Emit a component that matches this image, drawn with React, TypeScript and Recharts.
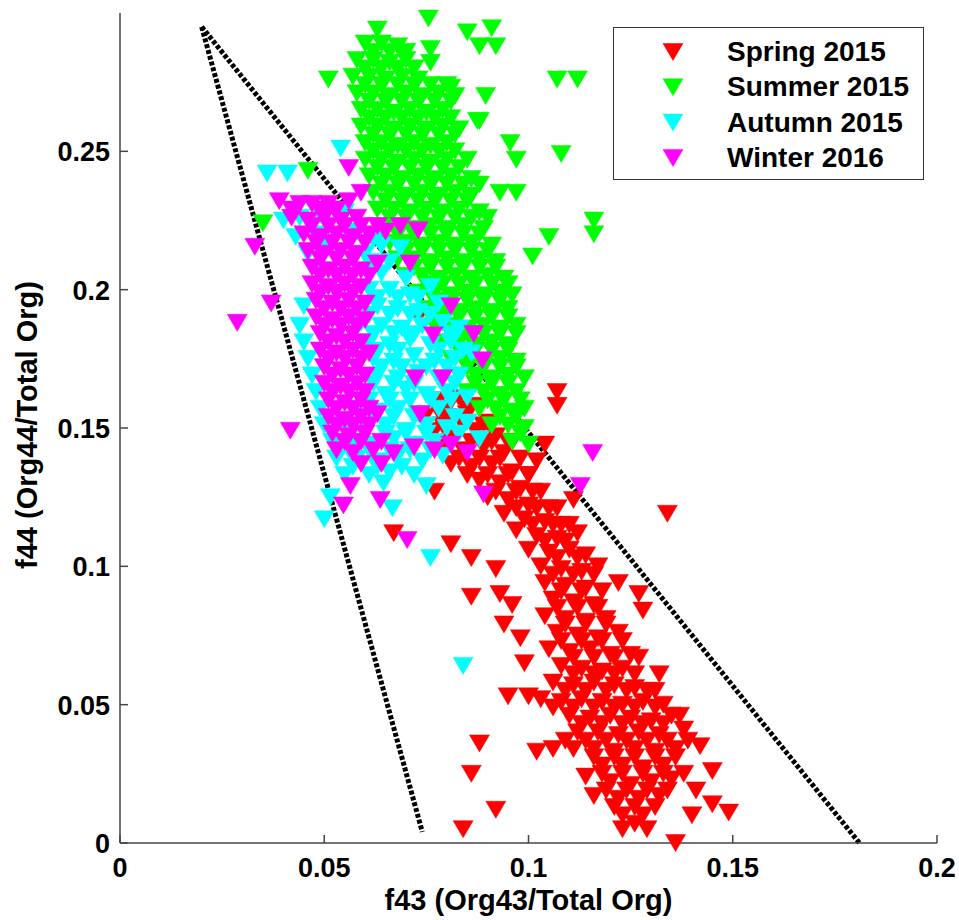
import React from "react";
import {
  ScatterChart,
  Scatter,
  XAxis,
  YAxis,
  ReferenceLine,
  Legend,
  Label,
} from "recharts";

type Pt = [number, number];

// f43, f44 pairs
const spring2015: Pt[] = [
  [0.078, 0.160], [0.083, 0.161], [0.088, 0.158], [0.075, 0.155], [0.080, 0.154], [0.085, 0.155], [0.090, 0.152],
  [0.077, 0.149], [0.082, 0.148], [0.087, 0.149], [0.092, 0.147], [0.096, 0.145],
  [0.079, 0.143], [0.084, 0.142], [0.089, 0.143], [0.094, 0.141], [0.098, 0.139], [0.104, 0.144],
  [0.081, 0.137], [0.086, 0.136], [0.091, 0.137], [0.096, 0.134], [0.100, 0.133], [0.102, 0.138],
  [0.107, 0.163], [0.107, 0.158], [0.073, 0.190], [0.077, 0.127], [0.067, 0.112], [0.078, 0.156],
  [0.088, 0.131], [0.093, 0.130], [0.098, 0.128], [0.103, 0.127],
  [0.090, 0.125], [0.095, 0.124], [0.100, 0.122], [0.105, 0.121], [0.111, 0.124],
  [0.094, 0.119], [0.099, 0.117], [0.104, 0.116], [0.108, 0.115],
  [0.097, 0.113], [0.102, 0.111], [0.107, 0.110], [0.112, 0.112],
  [0.100, 0.106], [0.105, 0.105], [0.110, 0.106], [0.114, 0.104],
  [0.081, 0.108], [0.086, 0.103], [0.092, 0.099], [0.103, 0.100], [0.108, 0.099], [0.113, 0.098], [0.117, 0.100],
  [0.134, 0.119],
  [0.086, 0.089], [0.093, 0.090], [0.096, 0.086], [0.094, 0.079], [0.098, 0.074], [0.099, 0.065],
  [0.104, 0.094], [0.109, 0.093], [0.114, 0.092], [0.122, 0.094],
  [0.106, 0.088], [0.111, 0.087], [0.116, 0.086], [0.127, 0.090], [0.128, 0.084],
  [0.104, 0.082], [0.109, 0.081], [0.114, 0.080], [0.119, 0.081],
  [0.107, 0.076], [0.112, 0.075], [0.117, 0.074], [0.122, 0.076],
  [0.105, 0.070], [0.110, 0.069], [0.115, 0.070], [0.120, 0.068], [0.125, 0.068], [0.127, 0.067],
  [0.108, 0.064], [0.113, 0.063], [0.118, 0.062], [0.123, 0.063], [0.132, 0.061],
  [0.106, 0.058], [0.111, 0.057], [0.116, 0.058], [0.121, 0.057], [0.126, 0.056], [0.131, 0.055],
  [0.103, 0.052], [0.108, 0.051], [0.113, 0.052], [0.118, 0.051], [0.123, 0.050], [0.128, 0.051], [0.133, 0.050],
  [0.095, 0.053], [0.100, 0.053],
  [0.110, 0.046], [0.115, 0.045], [0.120, 0.046], [0.125, 0.045], [0.130, 0.044], [0.135, 0.046], [0.137, 0.046],
  [0.112, 0.040], [0.117, 0.040], [0.122, 0.039], [0.127, 0.040], [0.132, 0.039], [0.138, 0.041], [0.142, 0.035],
  [0.102, 0.033], [0.106, 0.034], [0.111, 0.034], [0.116, 0.034], [0.121, 0.033], [0.126, 0.034], [0.131, 0.033], [0.136, 0.034],
  [0.118, 0.028], [0.123, 0.028], [0.128, 0.027], [0.133, 0.028], [0.114, 0.024], [0.145, 0.026],
  [0.120, 0.022], [0.125, 0.021], [0.130, 0.022], [0.135, 0.023],
  [0.116, 0.017], [0.122, 0.016], [0.127, 0.016], [0.132, 0.017], [0.141, 0.019], [0.145, 0.014],
  [0.123, 0.010], [0.128, 0.010], [0.140, 0.010], [0.149, 0.011],
  [0.123, 0.005], [0.129, 0.005], [0.136, 0.000],
  [0.084, 0.005], [0.086, 0.025], [0.088, 0.036], [0.092, 0.012],
  // in-between rows of the dense band
  [0.080, 0.157], [0.085, 0.157],
  [0.079, 0.151], [0.084, 0.151], [0.089, 0.151],
  [0.081, 0.145], [0.086, 0.145], [0.091, 0.145], [0.095, 0.145],
  [0.083, 0.139], [0.088, 0.139], [0.093, 0.139],
  [0.085, 0.133], [0.090, 0.133], [0.095, 0.133], [0.100, 0.133],
  [0.092, 0.127], [0.097, 0.127], [0.101, 0.127],
  [0.097, 0.121], [0.102, 0.121], [0.107, 0.121],
  [0.101, 0.115], [0.106, 0.115], [0.110, 0.115],
  [0.104, 0.109], [0.109, 0.109],
  [0.107, 0.103], [0.112, 0.103],
  [0.106, 0.097], [0.111, 0.097], [0.116, 0.097],
  [0.108, 0.091], [0.113, 0.091], [0.118, 0.091],
  [0.107, 0.085], [0.112, 0.085], [0.117, 0.085],
  [0.109, 0.079], [0.114, 0.079], [0.119, 0.079],
  [0.108, 0.073], [0.113, 0.073], [0.118, 0.073], [0.123, 0.073],
  [0.111, 0.067], [0.116, 0.067], [0.121, 0.067],
  [0.111, 0.061], [0.116, 0.061], [0.121, 0.061], [0.126, 0.061],
  [0.109, 0.055], [0.114, 0.055], [0.119, 0.055], [0.124, 0.055], [0.129, 0.055],
  [0.106, 0.049], [0.111, 0.049], [0.116, 0.049], [0.121, 0.049], [0.126, 0.049], [0.131, 0.049],
  [0.113, 0.043], [0.118, 0.043], [0.123, 0.043], [0.128, 0.043], [0.133, 0.043],
  [0.109, 0.037], [0.114, 0.037], [0.119, 0.037], [0.124, 0.037], [0.129, 0.037], [0.134, 0.037], [0.139, 0.037],
  [0.116, 0.031], [0.121, 0.031], [0.126, 0.031], [0.131, 0.031], [0.136, 0.031],
  [0.118, 0.025], [0.123, 0.025], [0.128, 0.025], [0.133, 0.025], [0.138, 0.025],
  [0.119, 0.019], [0.124, 0.019], [0.129, 0.019], [0.134, 0.019],
  [0.121, 0.013], [0.126, 0.013], [0.131, 0.013],
  [0.126, 0.007],
];

const summer2015: Pt[] = [
  [0.063, 0.294], [0.0755, 0.298], [0.085, 0.293], [0.091, 0.2945],
  [0.060, 0.289], [0.064, 0.289], [0.068, 0.288], [0.076, 0.287], [0.088, 0.288], [0.092, 0.288],
  [0.058, 0.283], [0.062, 0.283], [0.066, 0.282], [0.070, 0.283], [0.076, 0.282],
  [0.051, 0.276], [0.057, 0.277], [0.061, 0.277], [0.065, 0.276], [0.069, 0.277], [0.073, 0.276], [0.081, 0.273], [0.107, 0.276], [0.112, 0.276],
  [0.058, 0.271], [0.062, 0.271], [0.066, 0.270], [0.070, 0.271], [0.074, 0.270], [0.078, 0.271], [0.082, 0.270], [0.0895, 0.270],
  [0.059, 0.265], [0.063, 0.265], [0.067, 0.264], [0.071, 0.265], [0.075, 0.264], [0.079, 0.265], [0.0875, 0.261],
  [0.059, 0.259], [0.063, 0.259], [0.067, 0.258], [0.071, 0.259], [0.075, 0.258], [0.079, 0.259], [0.083, 0.258], [0.088, 0.261],
  [0.060, 0.253], [0.064, 0.253], [0.068, 0.252], [0.072, 0.253], [0.076, 0.252], [0.080, 0.253], [0.0955, 0.253],
  [0.046, 0.243], [0.060, 0.247], [0.064, 0.247], [0.068, 0.246], [0.072, 0.247], [0.076, 0.246], [0.080, 0.247], [0.085, 0.247], [0.097, 0.247], [0.108, 0.249],
  [0.061, 0.241], [0.065, 0.241], [0.069, 0.240], [0.073, 0.241], [0.077, 0.240], [0.081, 0.241], [0.086, 0.240],
  [0.062, 0.235], [0.066, 0.235], [0.070, 0.234], [0.074, 0.235], [0.078, 0.234], [0.082, 0.235], [0.086, 0.234], [0.093, 0.235], [0.097, 0.235],
  [0.063, 0.229], [0.067, 0.229], [0.071, 0.228], [0.075, 0.229], [0.079, 0.228], [0.083, 0.229], [0.088, 0.228],
  [0.035, 0.224], [0.064, 0.223], [0.068, 0.223], [0.072, 0.222], [0.076, 0.223], [0.080, 0.222], [0.084, 0.223], [0.089, 0.222], [0.105, 0.219], [0.116, 0.225],
  [0.066, 0.217], [0.070, 0.217], [0.074, 0.216], [0.078, 0.217], [0.082, 0.216], [0.086, 0.217], [0.091, 0.216], [0.101, 0.212], [0.116, 0.220],
  [0.068, 0.211], [0.072, 0.211], [0.076, 0.210], [0.080, 0.211], [0.084, 0.210], [0.088, 0.211], [0.092, 0.210],
  [0.070, 0.205], [0.074, 0.205], [0.078, 0.204], [0.082, 0.205], [0.086, 0.204], [0.090, 0.205], [0.094, 0.204],
  [0.073, 0.199], [0.077, 0.199], [0.081, 0.198], [0.085, 0.199], [0.089, 0.198], [0.093, 0.199], [0.096, 0.198],
  [0.075, 0.193], [0.079, 0.193], [0.083, 0.192], [0.087, 0.193], [0.091, 0.192], [0.095, 0.193],
  [0.077, 0.187], [0.081, 0.187], [0.085, 0.186], [0.089, 0.187], [0.093, 0.186], [0.097, 0.187],
  [0.079, 0.181], [0.083, 0.181], [0.087, 0.180], [0.091, 0.181], [0.095, 0.180],
  [0.081, 0.175], [0.085, 0.175], [0.089, 0.174], [0.093, 0.175], [0.097, 0.174],
  [0.083, 0.169], [0.087, 0.169], [0.091, 0.168], [0.095, 0.169], [0.099, 0.168],
  [0.085, 0.163], [0.089, 0.163], [0.093, 0.162], [0.097, 0.163],
  [0.088, 0.157], [0.092, 0.157], [0.096, 0.156], [0.099, 0.157],
  [0.091, 0.151], [0.095, 0.151], [0.099, 0.150],
  [0.096, 0.145], [0.100, 0.144],
  // in-between rows of the dense cloud
  [0.062, 0.286], [0.066, 0.286], [0.070, 0.286],
  [0.060, 0.280], [0.064, 0.280], [0.068, 0.280], [0.072, 0.280],
  [0.060, 0.274], [0.064, 0.274], [0.068, 0.274], [0.072, 0.274], [0.076, 0.274], [0.080, 0.274],
  [0.061, 0.268], [0.065, 0.268], [0.069, 0.268], [0.073, 0.268], [0.077, 0.268], [0.081, 0.268],
  [0.061, 0.262], [0.065, 0.262], [0.069, 0.262], [0.073, 0.262], [0.077, 0.262], [0.081, 0.262],
  [0.062, 0.256], [0.066, 0.256], [0.070, 0.256], [0.074, 0.256], [0.078, 0.256], [0.082, 0.256],
  [0.062, 0.250], [0.066, 0.250], [0.070, 0.250], [0.074, 0.250], [0.078, 0.250], [0.082, 0.250],
  [0.063, 0.244], [0.067, 0.244], [0.071, 0.244], [0.075, 0.244], [0.079, 0.244], [0.083, 0.244],
  [0.064, 0.238], [0.068, 0.238], [0.072, 0.238], [0.076, 0.238], [0.080, 0.238], [0.084, 0.238], [0.088, 0.238],
  [0.065, 0.232], [0.069, 0.232], [0.073, 0.232], [0.077, 0.232], [0.081, 0.232], [0.085, 0.232],
  [0.066, 0.226], [0.070, 0.226], [0.074, 0.226], [0.078, 0.226], [0.082, 0.226], [0.086, 0.226], [0.090, 0.226],
  [0.068, 0.220], [0.072, 0.220], [0.076, 0.220], [0.080, 0.220], [0.084, 0.220], [0.088, 0.220],
  [0.070, 0.214], [0.074, 0.214], [0.078, 0.214], [0.082, 0.214], [0.086, 0.214], [0.090, 0.214],
  [0.072, 0.208], [0.076, 0.208], [0.080, 0.208], [0.084, 0.208], [0.088, 0.208], [0.092, 0.208],
  [0.075, 0.202], [0.079, 0.202], [0.083, 0.202], [0.087, 0.202], [0.091, 0.202], [0.095, 0.202],
  [0.077, 0.196], [0.081, 0.196], [0.085, 0.196], [0.089, 0.196], [0.093, 0.196],
  [0.079, 0.190], [0.083, 0.190], [0.087, 0.190], [0.091, 0.190], [0.095, 0.190],
  [0.081, 0.184], [0.085, 0.184], [0.089, 0.184], [0.093, 0.184], [0.097, 0.184],
  [0.083, 0.178], [0.087, 0.178], [0.091, 0.178], [0.095, 0.178],
  [0.085, 0.172], [0.089, 0.172], [0.093, 0.172], [0.097, 0.172],
  [0.087, 0.166], [0.091, 0.166], [0.095, 0.166],
  [0.090, 0.160], [0.094, 0.160], [0.098, 0.160],
  [0.093, 0.154], [0.097, 0.154],
  [0.098, 0.148],
];

const autumn2015: Pt[] = [
  [0.054, 0.251], [0.036, 0.242], [0.041, 0.242],
  [0.040, 0.225], [0.044, 0.226], [0.049, 0.227], [0.055, 0.228],
  [0.043, 0.219], [0.048, 0.220], [0.058, 0.221], [0.062, 0.218],
  [0.046, 0.213], [0.060, 0.213], [0.0686, 0.215],
  [0.049, 0.207], [0.059, 0.207], [0.064, 0.206], [0.070, 0.204],
  [0.061, 0.200], [0.066, 0.200], [0.071, 0.198], [0.076, 0.201],
  [0.045, 0.194], [0.063, 0.194], [0.068, 0.193], [0.073, 0.192], [0.078, 0.195],
  [0.044, 0.187], [0.059, 0.188], [0.064, 0.187], [0.069, 0.186], [0.074, 0.187], [0.079, 0.188], [0.083, 0.186],
  [0.045, 0.181], [0.061, 0.181], [0.066, 0.180], [0.071, 0.182], [0.076, 0.180], [0.081, 0.181],
  [0.046, 0.175], [0.062, 0.175], [0.067, 0.174], [0.072, 0.176], [0.077, 0.174], [0.082, 0.175], [0.086, 0.177],
  [0.047, 0.169], [0.063, 0.169], [0.068, 0.168], [0.073, 0.170], [0.078, 0.168], [0.083, 0.169],
  [0.048, 0.163], [0.060, 0.163], [0.065, 0.162], [0.070, 0.164], [0.075, 0.162], [0.080, 0.163], [0.085, 0.161],
  [0.049, 0.157], [0.058, 0.157], [0.063, 0.156], [0.068, 0.157], [0.073, 0.155], [0.078, 0.157],
  [0.050, 0.151], [0.055, 0.151], [0.060, 0.150], [0.065, 0.151], [0.070, 0.149], [0.075, 0.151], [0.080, 0.150], [0.085, 0.152],
  [0.052, 0.145], [0.057, 0.145], [0.062, 0.144], [0.067, 0.146], [0.072, 0.144], [0.077, 0.145], [0.088, 0.146],
  [0.053, 0.139], [0.058, 0.139], [0.063, 0.138], [0.068, 0.140], [0.074, 0.138], [0.079, 0.140],
  [0.055, 0.133], [0.061, 0.133], [0.066, 0.134], [0.072, 0.133],
  [0.0645, 0.130], [0.075, 0.129], [0.0515, 0.125], [0.0667, 0.121], [0.050, 0.117], [0.076, 0.103], [0.084, 0.064],
  // in-between rows
  [0.050, 0.216], [0.064, 0.216], [0.061, 0.210], [0.066, 0.210],
  [0.063, 0.197], [0.068, 0.197], [0.073, 0.197],
  [0.061, 0.191], [0.066, 0.191], [0.071, 0.191], [0.076, 0.191],
  [0.062, 0.184], [0.067, 0.184], [0.072, 0.184], [0.081, 0.184],
  [0.063, 0.178], [0.068, 0.178], [0.078, 0.178], [0.084, 0.178],
  [0.064, 0.172], [0.069, 0.172], [0.075, 0.172], [0.080, 0.172],
  [0.062, 0.166], [0.067, 0.166], [0.072, 0.166], [0.082, 0.166],
  [0.061, 0.160], [0.066, 0.160], [0.071, 0.160], [0.076, 0.160], [0.081, 0.160],
  [0.062, 0.154], [0.067, 0.154], [0.072, 0.154], [0.082, 0.154],
  [0.060, 0.148], [0.065, 0.148], [0.070, 0.148], [0.075, 0.148], [0.083, 0.148],
  [0.056, 0.142], [0.061, 0.142], [0.066, 0.142], [0.071, 0.142], [0.076, 0.142],
  [0.057, 0.136], [0.063, 0.136], [0.069, 0.136],
];

const winter2016: Pt[] = [
  [0.039, 0.232], [0.044, 0.231], [0.047, 0.231], [0.051, 0.231], [0.056, 0.232],
  [0.056, 0.244], [0.059, 0.235],
  [0.042, 0.226], [0.046, 0.225], [0.050, 0.226], [0.054, 0.225], [0.058, 0.226],
  [0.045, 0.220], [0.049, 0.219], [0.053, 0.220], [0.057, 0.219], [0.061, 0.220], [0.065, 0.221],
  [0.0686, 0.223], [0.073, 0.2215], [0.033, 0.2155],
  [0.046, 0.214], [0.050, 0.213], [0.054, 0.214], [0.058, 0.213],
  [0.047, 0.208], [0.051, 0.207], [0.055, 0.208], [0.059, 0.207], [0.063, 0.2095], [0.071, 0.2095],
  [0.047, 0.202], [0.051, 0.201], [0.055, 0.202], [0.059, 0.201],
  [0.037, 0.195], [0.048, 0.196], [0.052, 0.195], [0.056, 0.196], [0.060, 0.195],
  [0.0287, 0.188],
  [0.048, 0.190], [0.052, 0.189], [0.056, 0.190], [0.060, 0.189],
  [0.049, 0.184], [0.053, 0.183], [0.057, 0.184],
  [0.049, 0.178], [0.053, 0.177], [0.057, 0.178], [0.061, 0.177],
  [0.050, 0.172], [0.054, 0.171], [0.058, 0.172],
  [0.050, 0.166], [0.054, 0.165], [0.058, 0.166],
  [0.051, 0.160], [0.055, 0.159], [0.059, 0.160],
  [0.051, 0.154], [0.055, 0.153], [0.059, 0.154], [0.063, 0.155],
  [0.052, 0.148], [0.056, 0.147], [0.060, 0.148],
  [0.0417, 0.149],
  [0.053, 0.142], [0.057, 0.141], [0.062, 0.142], [0.067, 0.141], [0.072, 0.143], [0.077, 0.142], [0.081, 0.144], [0.085, 0.141],
  [0.059, 0.137], [0.064, 0.137],
  [0.0564, 0.129], [0.0547, 0.122], [0.0637, 0.124], [0.0703, 0.1095], [0.089, 0.126], [0.1157, 0.141], [0.1127, 0.129],
  [0.081, 0.194], [0.0866, 0.184], [0.0887, 0.1745], [0.0767, 0.1835], [0.0723, 0.168], [0.079, 0.168], [0.0735, 0.155],
  // in-between rows of the core
  [0.042, 0.229], [0.049, 0.229], [0.053, 0.229],
  [0.047, 0.223], [0.051, 0.223], [0.055, 0.223], [0.059, 0.223], [0.063, 0.223],
  [0.048, 0.217], [0.052, 0.217], [0.056, 0.217], [0.060, 0.217],
  [0.049, 0.211], [0.053, 0.211], [0.057, 0.211],
  [0.049, 0.205], [0.053, 0.205], [0.057, 0.205], [0.061, 0.205],
  [0.049, 0.199], [0.053, 0.199], [0.057, 0.199],
  [0.050, 0.193], [0.054, 0.193], [0.058, 0.193],
  [0.050, 0.187], [0.054, 0.187], [0.058, 0.187],
  [0.051, 0.181], [0.055, 0.181], [0.059, 0.181],
  [0.051, 0.175], [0.055, 0.175], [0.059, 0.175],
  [0.052, 0.169], [0.056, 0.169], [0.060, 0.169],
  [0.052, 0.163], [0.056, 0.163], [0.060, 0.163],
  [0.053, 0.157], [0.057, 0.157], [0.061, 0.157],
  [0.053, 0.151], [0.057, 0.151], [0.061, 0.151],
  [0.055, 0.145], [0.059, 0.145], [0.064, 0.145],
];

const xTicks = [0, 0.05, 0.1, 0.15, 0.2];
const yTicks = [0, 0.05, 0.1, 0.15, 0.2, 0.25];

// the two dotted boundary lines
const leftBoundary = [
  { x: 0.02, y: 0.295 },
  { x: 0.074, y: 0.004 },
];
const rightBoundary = [
  { x: 0.02, y: 0.295 },
  { x: 0.181, y: 0.0 },
];

const series = [
  { name: "Spring 2015", color: "#ff0000", points: spring2015 },
  { name: "Summer 2015", color: "#00ff00", points: summer2015 },
  { name: "Autumn 2015", color: "#00ffff", points: autumn2015 },
  { name: "Winter 2016", color: "#ff00ff", points: winter2016 },
];

const FONT = "'Liberation Sans', Arial, Helvetica, sans-serif";
const AXIS = "#444";

const Triangle = (props: any) => {
  const { cx, cy, fill } = props;
  if (cx == null || cy == null) return null;
  const w = 10;
  const h = 8.5;
  return (
    <polygon
      points={`${cx - w},${cy - h} ${cx + w},${cy - h} ${cx},${cy + h}`}
      fill={fill}
      stroke={fill}
      strokeWidth={0.5}
    />
  );
};

const BottomTick = ({ x, y, payload }: any) => (
  <g>
    <line x1={x} x2={x} y1={y} y2={y - 8} stroke={AXIS} strokeWidth={1.5} />
    <text x={x} y={y + 34} textAnchor="middle" fontSize={27} fontWeight="bold" fontFamily={FONT} fill="#000">
      {String(payload.value)}
    </text>
  </g>
);

const LeftTick = ({ x, y, payload }: any) => (
  <g>
    <line x1={x} x2={x + 8} y1={y} y2={y} stroke={AXIS} strokeWidth={1.5} />
    <text x={x - 10} y={y + 10} textAnchor="end" fontSize={27} fontWeight="bold" fontFamily={FONT} fill="#000">
      {String(payload.value)}
    </text>
  </g>
);

const TopTick = ({ x, y }: any) => (
  <line x1={x} x2={x} y1={y} y2={y + 8} stroke={AXIS} strokeWidth={1.5} />
);

const RightTick = ({ x, y }: any) => (
  <line x1={x} x2={x - 8} y1={y} y2={y} stroke={AXIS} strokeWidth={1.5} />
);

const LegendBox = () => (
  <svg width={311} height={153} style={{ display: "block" }}>
    <rect x={0.5} y={0.5} width={310} height={152} fill="#fff" stroke="#333" strokeWidth={1} />
    {series.map((s, i) => {
      const cy = 25 + i * 35.3;
      return (
        <g key={s.name}>
          <Triangle cx={60} cy={cy} fill={s.color} />
          <text x={114} y={cy + 9} fontSize={28} fontWeight="bold" fontFamily={FONT} fill="#000">
            {s.name}
          </text>
        </g>
      );
    })}
  </svg>
);

export default function App() {
  return (
    <div style={{ position: "absolute", left: 0, top: 0, background: "#fff" }}>
      <ScatterChart width={959} height={920} margin={{ top: 13, right: 22, bottom: 0, left: 0 }}>
        <XAxis
          dataKey="x"
          type="number"
          domain={[0, 0.2]}
          ticks={xTicks}
          interval={0}
          height={77}
          tickSize={0}
          tickMargin={0}
          tickLine={false}
          axisLine={{ stroke: AXIS, strokeWidth: 1.5 }}
          tick={<BottomTick />}
        >
          <Label
            content={({ viewBox }: any) => (
              <text
                x={viewBox.x + viewBox.width / 2}
                y={910}
                textAnchor="middle"
                fontSize={29}
                fontWeight="bold"
                fontFamily={FONT}
                fill="#000"
              >
                f43 (Org43/Total Org)
              </text>
            )}
          />
        </XAxis>
        <YAxis
          dataKey="y"
          type="number"
          domain={[0, 0.3]}
          ticks={yTicks}
          interval={0}
          width={120}
          tickSize={0}
          tickMargin={0}
          tickLine={false}
          axisLine={{ stroke: AXIS, strokeWidth: 1.5 }}
          tick={<LeftTick />}
        >
          <Label
            content={({ viewBox }: any) => {
              const cy = viewBox.y + viewBox.height / 2 - 3;
              return (
                <text
                  transform={`translate(37, ${cy}) rotate(-90)`}
                  textAnchor="middle"
                  fontSize={29}
                  fontWeight="bold"
                  fontFamily={FONT}
                  fill="#000"
                >
                  f44 (Org44/Total Org)
                </text>
              );
            }}
          />
        </YAxis>
        <XAxis
          xAxisId="top"
          orientation="top"
          type="number"
          domain={[0, 0.2]}
          ticks={xTicks}
          interval={0}
          height={0}
          tickSize={0}
          tickMargin={0}
          tickLine={false}
          axisLine={{ stroke: AXIS, strokeWidth: 1.5 }}
          tick={<TopTick />}
        />
        <YAxis
          yAxisId="right"
          orientation="right"
          type="number"
          domain={[0, 0.3]}
          ticks={yTicks}
          interval={0}
          width={0}
          tickSize={0}
          tickMargin={0}
          tickLine={false}
          axisLine={{ stroke: AXIS, strokeWidth: 1.5 }}
          tick={<RightTick />}
        />
        {series.map((s) => (
          <Scatter
            key={s.name}
            name={s.name}
            data={s.points.map(([x, y]) => ({ x, y }))}
            fill={s.color}
            shape={<Triangle />}
            isAnimationActive={false}
          />
        ))}
        <ReferenceLine
          segment={leftBoundary}
          stroke="#000"
          strokeWidth={5}
          strokeDasharray="4 2"
          ifOverflow="visible"
        />
        <ReferenceLine
          segment={rightBoundary}
          stroke="#000"
          strokeWidth={5}
          strokeDasharray="4 2"
          ifOverflow="visible"
        />
        <Legend
          layout="vertical"
          align="center"
          verticalAlign="middle"
          wrapperStyle={{ left: 613, top: 27, width: 311, height: 153 }}
          content={() => <LegendBox />}
        />
      </ScatterChart>
    </div>
  );
}
